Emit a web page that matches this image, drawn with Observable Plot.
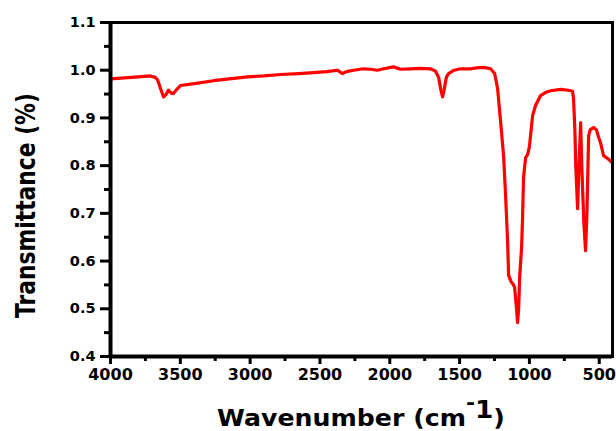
<!DOCTYPE html>
<html><head><meta charset="utf-8">
<script src="https://cdn.jsdelivr.net/npm/d3@7"></script>
<script src="https://cdn.jsdelivr.net/npm/@observablehq/plot@0.6"></script>
<style>html,body{margin:0;padding:0;background:#fff} svg{display:block}</style>
</head><body><div id="chart"></div>
<script>
const wavenumber = [4000,3900,3800,3715,3680,3663,3640,3620,3600,3585,3565,3549,3525,3499,3400,3262,3150,3019,2900,2782,2650,2546,2450,2374,2355,2338,2310,2259,2188,2138,2088,2044,1973,1923,1850,1780,1708,1672,1650,1635,1622,1610,1595,1579,1540,1493,1420,1380,1328,1278,1249,1228,1206,1185,1171,1156,1149,1130,1120,1106,1092,1085,1077,1070,1056,1049,1042,1027,1013,1000,992,977,956,920,880,848,777,720,691,684,675,668,655,645,633,625,610,598,588,576,565,540,520,505,490,469,440,420,405];
const transmittance = [0.982,0.984,0.986,0.988,0.985,0.980,0.960,0.944,0.950,0.958,0.952,0.951,0.960,0.968,0.972,0.978,0.982,0.986,0.988,0.991,0.993,0.995,0.997,1.000,0.996,0.993,0.997,1.000,1.003,1.002,1.000,1.003,1.007,1.002,1.003,1.004,1.003,0.998,0.985,0.960,0.944,0.960,0.985,0.993,1.000,1.003,1.003,1.005,1.006,1.003,0.993,0.962,0.891,0.821,0.740,0.640,0.570,0.556,0.553,0.545,0.500,0.471,0.500,0.566,0.629,0.691,0.775,0.817,0.823,0.840,0.863,0.905,0.926,0.947,0.954,0.957,0.960,0.958,0.956,0.940,0.880,0.800,0.710,0.800,0.890,0.800,0.680,0.622,0.700,0.862,0.875,0.880,0.875,0.860,0.847,0.821,0.815,0.810,0.805];
const xTicks = [4000,3500,3000,2500,2000,1500,1000,500];
const xMinor = [3750,3250,2750,2250,1750,1250,750];
const yTicks = [0.4,0.5,0.6,0.7,0.8,0.9,1.0,1.1];
const yMinor = [0.45,0.55,0.65,0.75,0.85,0.95,1.05];
const xTitleMain = "Wavenumber (cm";
const xTitleSupMinus = "-";
const xTitleSupOne = "1";
const xTitleEnd = ")";
const yTitle = "Transmittance (%)";

const data = wavenumber.map((w, i) => ({w, t: transmittance[i]}));
const FONT = "DejaVu Sans";

const plot = Plot.plot({
  width: 616, height: 431,
  marginLeft: 110, marginTop: 22, marginBottom: 75, marginRight: 4,
  style: {fontFamily: FONT, fontWeight: "bold", background: "#fff", color: "#000"},
  x: {domain: [4000, 405], label: null},
  y: {domain: [0.4, 1.1], label: null},
  marks: [
    Plot.line(data, {x: "w", y: "t", stroke: "#ff0000", strokeWidth: 3.2, strokeLinejoin: "round"}),
    Plot.axisX(xTicks, {tickSize: 8, tickPadding: 4, stroke: "#000", strokeWidth: 3, fontSize: 16, fill: "#000", tickFormat: d => String(d)}),
    Plot.axisX(xMinor, {tickSize: 5, stroke: "#000", strokeWidth: 3, tickFormat: () => ""}),
    Plot.axisY(yTicks, {tickSize: 10, tickPadding: 5, stroke: "#000", strokeWidth: 3, fontSize: 14.5, fill: "#000", tickFormat: d => d.toFixed(1)}),
    Plot.axisY(yMinor, {tickSize: 6, stroke: "#000", strokeWidth: 3, tickFormat: () => ""}),
    Plot.frame({stroke: "#000", strokeWidth: 3}),
    Plot.ruleX([4000], {stroke: "#000", strokeWidth: 4}),
    Plot.ruleY([0.4], {stroke: "#000", strokeWidth: 4})
  ]
});
document.getElementById("chart").append(plot);

const svg = d3.select(plot);
svg.selectAll('[aria-label="frame"], [aria-label="frame"] rect').style("stroke", "#000").style("stroke-width", "3px");
svg.selectAll('g[aria-label="rule"], g[aria-label="rule"] line').style("stroke", "#000").style("stroke-width", "4px");
svg.selectAll('g[aria-label$="-axis tick"] path').style("stroke", "#000").style("stroke-width", "3px");

// x title
const xg = svg.append("g");
const xt = xg.append("text")
  .attr("font-family", FONT).attr("font-weight", "bold").attr("font-size", 23)
  .attr("fill", "#000").attr("text-anchor", "middle");
xt.append("tspan").text(xTitleMain);
xt.append("tspan").attr("font-size", 20).attr("dy", -17).text(xTitleSupMinus);
xt.append("tspan").attr("font-size", 24).attr("dy", 9).text(xTitleSupOne);
xt.append("tspan").attr("font-size", 23).attr("dy", 8).text(xTitleEnd);
const xw = xt.node().getBBox().width;
xg.attr("transform", `translate(361,426) scale(${288 / xw},1)`);

// y title
const yg = svg.append("g");
const yt = yg.append("text")
  .attr("font-family", FONT).attr("font-weight", "bold").attr("font-size", 27)
  .attr("fill", "#000").attr("text-anchor", "middle").text(yTitle);
const yw = yt.node().getBBox().width;
yg.attr("transform", `translate(35,205.5) rotate(-90) scale(${225 / yw},1)`);
</script>
</body></html>
